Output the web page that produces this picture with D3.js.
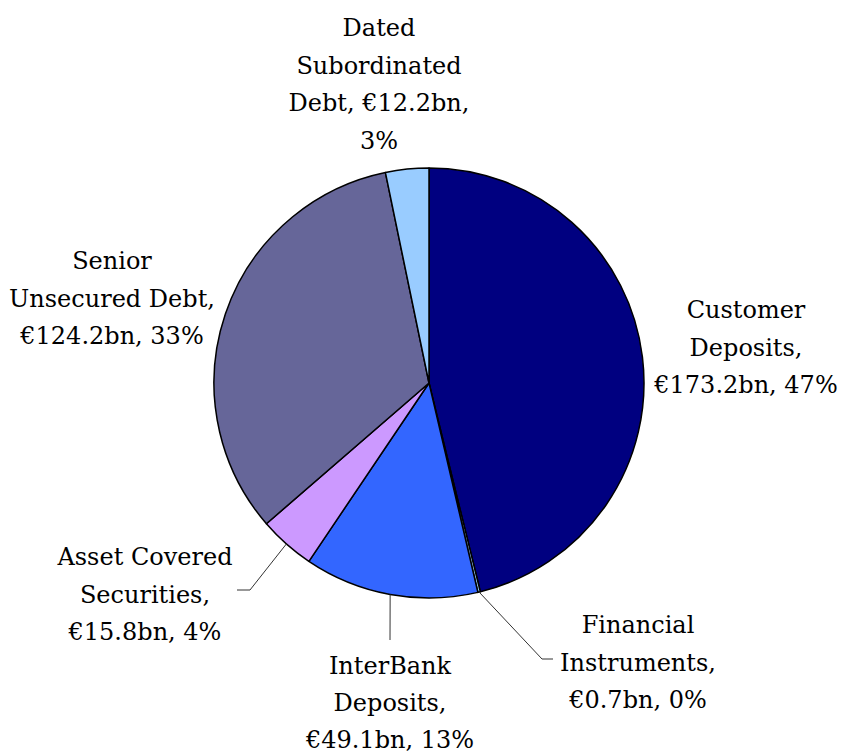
<!DOCTYPE html>
<html>
<head>
<meta charset="utf-8">
<script src="https://cdn.jsdelivr.net/npm/d3@7"></script>
<style>
  html, body { margin: 0; padding: 0; background: #fff; }
  svg { display: block; }
</style>
</head>
<body>
<script>
// ---- Data ----
const categories = ["Customer Deposits", "Financial Instruments", "InterBank Deposits",
                    "Asset Covered Securities", "Senior Unsecured Debt", "Dated Subordinated Debt"];
const valuesBn = [173.2, 0.7, 49.1, 15.8, 124.2, 12.2];
const pctLabels = [47, 0, 13, 4, 33, 3];
const colors = ["#000080", "#99CCFF", "#3366FF", "#CC99FF", "#666699", "#99CCFF"];
// words per label line
const wrapWords = [[1, 1, 2], [1, 1, 2], [1, 1, 2], [2, 1, 2], [1, 2, 2], [1, 1, 2, 1]];

// ---- Layout ----
const W = 845, H = 756;
const cx = 429, cy = 383, R = 215;
const lineH = 37.5;
const labelPos = [
  { x: 746, y: 318 },
  { x: 638, y: 633 },
  { x: 390, y: 674, lh: 37 },
  { x: 145, y: 565 },
  { x: 112, y: 269 },
  { x: 379, y: 36 }
];
// leader line elbow/end points (null = no leader)
const leaders = [
  null,
  [[542, 659], [553, 659]],
  [[390, 640]],
  [[250, 590], [237, 590]],
  null,
  null
];

const data = categories.map((c, i) => ({ name: c, value: valuesBn[i], pct: pctLabels[i], color: colors[i], i }));

const svg = d3.select("body").append("svg").attr("width", W).attr("height", H);
const g = svg.append("g").attr("transform", `translate(${cx},${cy})`);

const pie = d3.pie().sort(null).value(d => d.value);
const arc = d3.arc().innerRadius(0).outerRadius(R);
const arcs = pie(data);

g.selectAll("path.slice").data(arcs).join("path")
  .attr("class", "slice")
  .attr("d", arc)
  .attr("fill", d => d.data.color)
  .attr("stroke", "#000")
  .attr("stroke-width", 1.5)
  .attr("stroke-linejoin", "round");

// leader lines
arcs.forEach(a => {
  const L = leaders[a.data.i];
  if (!L) return;
  const mid = (a.startAngle + a.endAngle) / 2;
  const start = [cx + R * Math.sin(mid), cy - R * Math.cos(mid)];
  const pts = [start].concat(L);
  svg.append("path")
    .attr("d", d3.line()(pts))
    .attr("fill", "none")
    .attr("stroke", "#333")
    .attr("stroke-width", 1);
});

// labels
data.forEach(d => {
  const full = `${d.name}, €${d.value.toFixed(1)}bn, ${d.pct}%`;
  const words = full.split(" ");
  const lines = [];
  let k = 0;
  wrapWords[d.i].forEach(n => { lines.push(words.slice(k, k + n).join(" ")); k += n; });
  const p = labelPos[d.i];
  const lh = p.lh || lineH;
  const t = svg.append("text")
    .attr("text-anchor", "middle")
    .attr("font-family", "'DejaVu Serif', serif")
    .attr("font-size", 24)
    .attr("fill", "#000");
  lines.forEach((ln, j) => {
    t.append("tspan").attr("x", p.x).attr("y", p.y + j * lh).text(ln);
  });
});
</script>
</body>
</html>
